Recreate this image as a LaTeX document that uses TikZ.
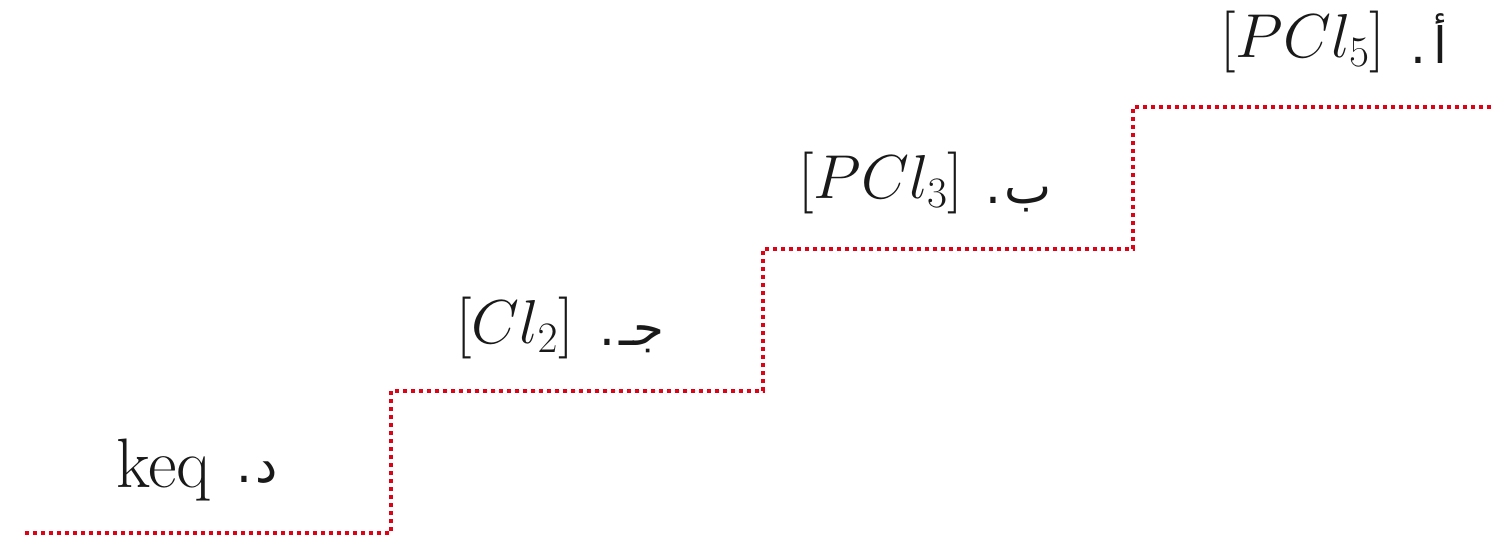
\RequirePackage{fix-cm}
\documentclass[tikz,border=0pt]{standalone}
\usepackage{fontspec}
\newfontfamily\arabicfont[Script=Arabic]{DejaVu Sans}
\TeXXeTstate=1
\definecolor{stair}{RGB}{225,0,20}
\definecolor{ink}{RGB}{25,25,25}
\begin{document}
\begin{tikzpicture}[x=1pt,y=-1pt,
  stairline/.style={draw=stair, line width=3.6pt, dash pattern=on 3.6pt off 4.4pt},
  mathlbl/.style={inner sep=0pt, text=ink, font=\fontsize{62}{66}\selectfont},
  keqlbl/.style={inner sep=0pt, text=ink, font=\fontsize{70}{74}\selectfont},
  arlbl/.style={inner sep=0pt, text=ink, font=\fontsize{50}{54}\selectfont\arabicfont}]
\useasboundingbox (0,0) rectangle (1491,539);
\coordinate (s0) at (25,533);
\coordinate (s1) at (391,391);
\coordinate (s2) at (763,249);
\coordinate (s3) at (1133,107);
\coordinate (s4) at (1491,107);
\draw[stairline] (s0) -| (s1) -| (s2) -| (s3) -- (s4);
% labels
\node[mathlbl, anchor=west] (ma) at (1220,42) {$[PCl_5]$};
\node[arlbl, anchor=base east] (aa) at (1448,63) {\beginR أ\kern8pt.\endR};
\node[mathlbl, anchor=west] (mb) at (798,183) {$[PCl_3]$};
\node[arlbl, anchor=base east] (ab) at (1052,203) {\beginR ب\kern3pt.\endR};
\node[mathlbl, anchor=west] (mc) at (456,328) {$[Cl_2]$};
\node[arlbl, anchor=base east] (ac) at (665,345) {\beginR جـ\kern4pt.\endR};
\node[keqlbl, anchor=base west] (md) at (116,487) {keq};
\node[arlbl, anchor=base east] (ad) at (278,482) {\beginR د\kern3pt.\endR};
\end{tikzpicture}
\end{document}
